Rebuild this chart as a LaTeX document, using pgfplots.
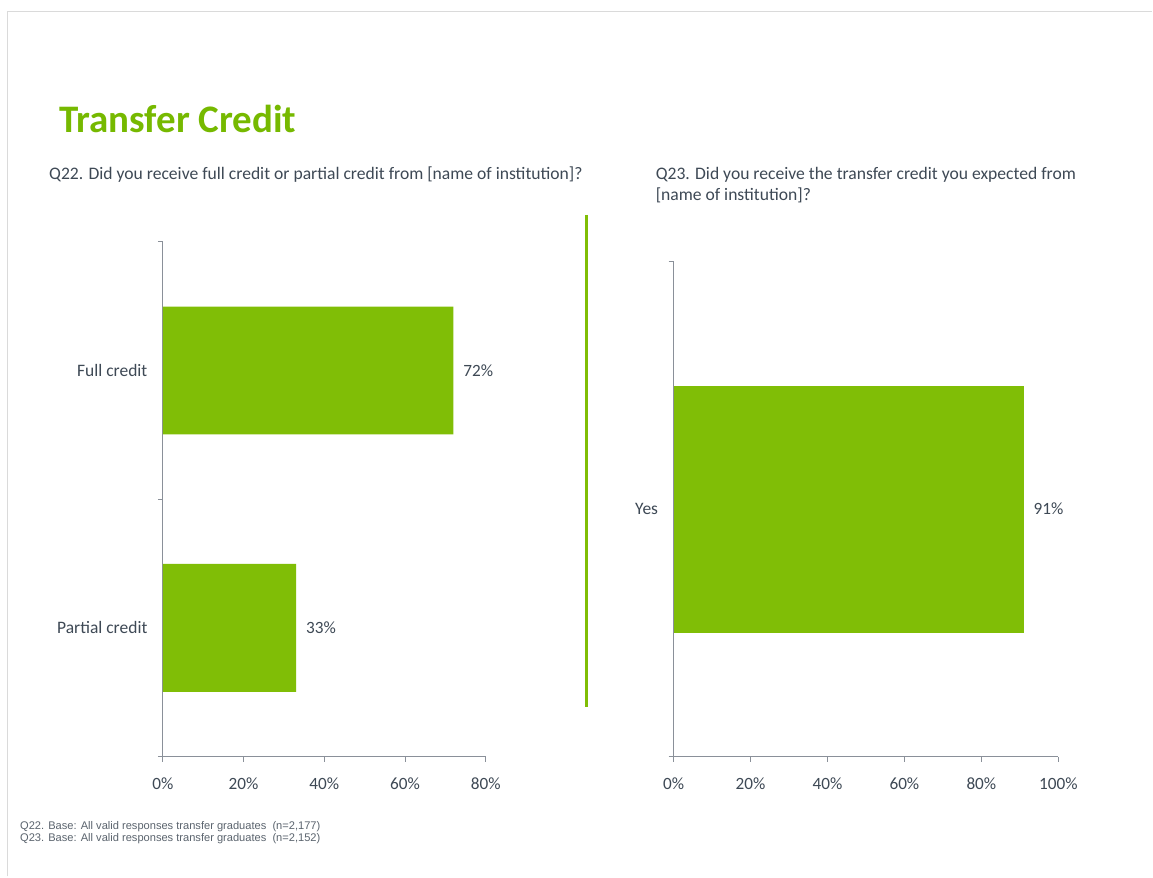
\documentclass[border=0pt]{standalone}
\usepackage{pgfplots}
\pgfplotsset{compat=1.18}
\usepackage{fontspec}
\setmainfont{Carlito}
\newfontfamily\arialfont{Liberation Sans}
\definecolor{bargreen}{HTML}{80BE06}
\definecolor{titlegreen}{HTML}{76B900}
\definecolor{txt}{HTML}{3E4955}
\definecolor{axgray}{HTML}{8A9099}
\definecolor{framegray}{HTML}{DADADA}

\pgfplotsset{
  mybar/.style={
    scale only axis,
    anchor=south west,
    xbar,
    axis x line=bottom,
    axis y line=left,
    axis line style={-, draw=axgray, line width=0.8pt},
    tick style={draw=axgray, line width=0.8pt},
    tick align=outside,
    major tick length=5pt,
    /pgf/number format/assume math mode=true,
    tick label style={text=txt, font=\fontsize{17.2}{20}\selectfont},
    xticklabel={\pgfmathprintnumber{\tick}\%},
    xticklabel style={yshift=-13pt},
    ytick=\empty,
    extra y tick style={major tick length=0pt, tick style={draw=none}, yticklabel style={xshift=-12pt, font=\fontsize{17.5}{20}\selectfont}},
    point meta=x,
    nodes near coords={\pgfmathprintnumber{\pgfplotspointmeta}\%},
    nodes near coords style={anchor=west, xshift=6.5pt, text=txt, font=\fontsize{17.2}{20}\selectfont},
    clip=false,
  }
}

\begin{document}
\begin{tikzpicture}[x=1pt,y=1pt]
\fill[white] (0,0) rectangle (1153,877);
\draw[framegray, line width=1.5pt] (7.5,0) -- (7.5,865.5) -- (1153,865.5);

\node[anchor=base west, text=titlegreen, font=\fontsize{39}{44}\selectfont\bfseries, inner sep=0] at (59,877-133) {Transfer Credit};
\node[anchor=base west, text=txt, font=\fontsize{17.6}{21}\selectfont, inner sep=0] at (49,877-180) {Q22. Did you receive full credit or partial credit from [name of institution]?};
\node[anchor=base west, text=txt, font=\fontsize{17.6}{21}\selectfont, inner sep=0] at (656,877-180) {Q23. Did you receive the transfer credit you expected from};
\node[anchor=base west, text=txt, font=\fontsize{17.6}{21}\selectfont, inner sep=0] at (656,877-201) {[name of institution]?};

\draw[bargreen, line width=3pt] (587,877-215) -- (587,877-707);

\node[anchor=base west, text=txt!85, font=\arialfont\fontsize{11.1}{12}\selectfont, inner sep=0] at (20,877-830) {Q22. Base: All valid responses transfer graduates\ \ (n=2,177)};
\node[anchor=base west, text=txt!85, font=\arialfont\fontsize{11.1}{12}\selectfont, inner sep=0] at (20,877-842) {Q23. Base: All valid responses transfer graduates\ \ (n=2,152)};

\begin{axis}[mybar,
  at={(163pt,120pt)},
  width=323pt, height=515pt,
  xmin=0, xmax=80, xtick={0,20,40,60,80},
  ymin=-0.5, ymax=1.5,
  bar width=128pt,
  ytick={-0.5,0.5,1.5}, yticklabels={},
  extra y ticks={0,1},
  extra y tick labels={Partial credit, Full credit},
]
\addplot[fill=bargreen, draw=none] coordinates {(33,0) (72,1)};
\end{axis}

\begin{axis}[mybar,
  at={(674pt,120pt)},
  width=385pt, height=495pt,
  xmin=0, xmax=100, xtick={0,20,40,60,80,100},
  ymin=-0.5, ymax=0.5,
  bar width=247pt,
  ytick={-0.5,0.5}, yticklabels={},
  extra y ticks={0},
  extra y tick labels={Yes},
]
\addplot[fill=bargreen, draw=none] coordinates {(91,0)};
\end{axis}
\end{tikzpicture}
\end{document}
